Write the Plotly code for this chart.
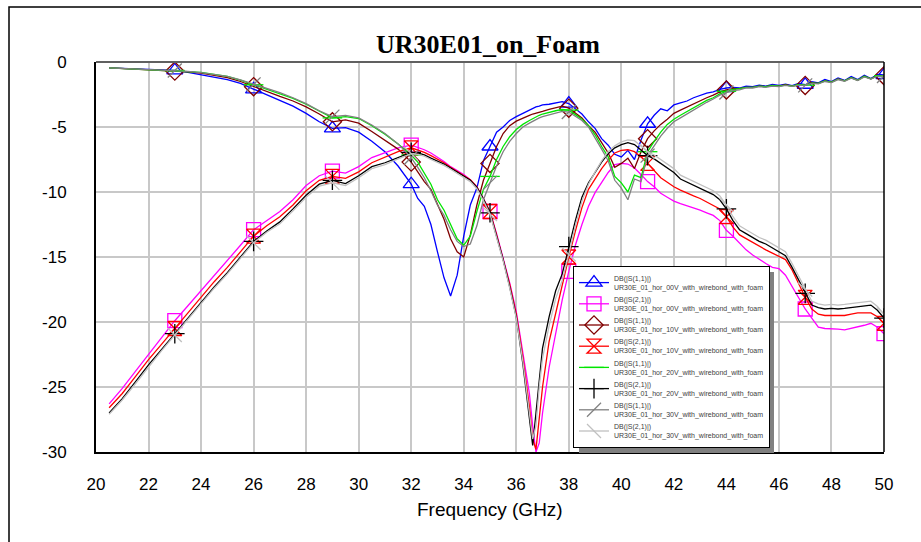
import plotly.graph_objects as go

freq = [20.5, 21, 21.5, 22, 22.5, 23, 23.5, 24, 24.5, 25, 25.5, 26, 26.5, 27, 27.5, 28, 28.5, 29, 29.5, 30, 30.5, 31, 31.5, 32,
        32.25, 32.5, 32.75, 33, 33.25, 33.5, 33.75, 34, 34.25, 34.5, 34.75, 35, 35.25, 35.5, 35.75, 36, 36.25, 36.5,
        36.625, 36.75, 36.875, 37,
        37.25, 37.5, 37.75, 38, 38.25, 38.5, 38.75, 39, 39.25, 39.5, 39.75, 40, 40.25, 40.5, 40.75, 41,
        41.25, 41.5, 41.75, 42, 42.25, 42.5, 42.75, 43, 43.25, 43.5, 43.75, 44, 44.25, 44.5, 44.75, 45,
        45.25, 45.5, 45.75, 46, 46.25, 46.5, 46.75, 47, 47.25, 47.5, 47.75, 48, 48.25, 48.5, 48.75, 49,
        49.25, 49.5, 49.75, 50]

marker_freqs = [23, 26, 29, 32, 35, 38, 41, 44, 47, 50]

s11_00v = [-0.45, -0.5, -0.5, -0.55, -0.6, -0.65, -0.8, -1.0, -1.15, -1.35, -1.65, -2.1, -2.55, -3.0, -3.4, -3.95, -4.6, -5.1, -5.05, -5.4, -6.1, -6.9, -8.0, -9.4,
           -10.5, -11.1, -12.5, -14.6, -16.6, -18.0, -16.4, -13.4, -11.0, -9.7, -7.6, -6.5, -5.4, -5.0, -4.5, -4.2, -3.95, -3.7,
           -3.55, -3.45, -3.4, -3.3,
           -3.25, -3.15, -3.05, -3.2, -3.6, -4.0, -4.6, -5.1, -5.9, -6.4, -7.1, -7.3, -6.8, -7.5, -6.0, -4.75,
           -4.1, -3.6, -3.75, -3.3, -3.15, -3.0, -2.75, -2.55, -2.4, -2.3, -2.1, -2.0, -1.95, -2.0, -1.85, -1.9,
           -1.78, -1.85, -1.72, -1.8, -1.7, -1.82, -1.65, -1.75, -1.52, -1.6, -1.35, -1.5, -1.22, -1.42, -1.12, -1.35,
           -1.02, -1.28, -0.95, -1.0]

s21_00v = [-26.3, -25.1, -23.8, -22.5, -21.2, -19.9, -18.75, -17.6, -16.4, -15.3, -14.1, -12.9, -12.2, -11.5, -10.6, -9.5, -8.75, -8.4, -8.55, -8.05, -7.35, -7.0, -6.6, -6.4,
           -6.55, -6.75, -7.0, -7.3, -7.65, -8.05, -8.35, -8.65, -9.05, -9.6, -10.5, -11.5, -13.2, -15.0, -17.0, -19.2, -22.3, -25.5,
           -28.0, -30.0, -29.3, -27.0,
           -23.5, -20.8, -18.3, -16.1, -14.1, -12.5, -11.1, -10.05, -9.25, -8.5, -7.9, -7.8, -7.85, -8.15, -8.65, -9.2,
           -9.6, -10.1, -10.4, -10.7, -10.9, -11.05, -11.2, -11.4, -11.6, -11.8, -12.2, -12.95, -13.4, -13.9, -14.45, -14.85,
           -15.2, -15.5, -15.8, -15.9, -16.4, -17.3, -18.2, -19.0, -19.7, -20.4, -20.5, -20.5, -20.55, -20.6, -20.5, -20.4,
           -20.25, -20.1, -20.4, -20.9]

s11_10v = [-0.45, -0.5, -0.5, -0.55, -0.6, -0.7, -0.75, -0.85, -1.0, -1.2, -1.5, -1.9, -2.25, -2.65, -3.0, -3.45, -4.0, -4.6, -4.45, -4.7, -5.35, -6.0, -6.7, -7.7,
           -8.5, -9.2, -9.8, -11.0, -12.1, -13.6, -14.6, -15.0, -13.3, -11.0, -9.1, -7.8, -6.5, -5.5, -4.9, -4.55, -4.3, -4.1,
           -4.0, -3.95, -3.85, -3.8,
           -3.65, -3.5, -3.4, -3.55, -3.9, -4.3, -4.9, -5.4, -6.2, -7.0, -8.1, -7.8, -7.4, -8.2, -6.9, -5.9,
           -5.3, -4.8, -4.4, -3.95, -3.7, -3.45, -3.2, -2.95, -2.75, -2.55, -2.3, -2.15, -2.05, -2.05, -1.95, -1.95,
           -1.85, -1.9, -1.8, -1.85, -1.75, -1.85, -1.75, -1.8, -1.6, -1.65, -1.45, -1.55, -1.3, -1.45, -1.2, -1.4,
           -1.1, -1.3, -1.05, -1.05]

s21_10v = [-26.6, -25.5, -24.2, -22.9, -21.7, -20.5, -19.3, -18.1, -16.9, -15.8, -14.6, -13.4, -12.6, -11.9, -11.0, -9.9, -9.1, -8.8, -8.95, -8.45, -7.75, -7.3, -6.9, -6.6,
           -6.75, -6.95, -7.2, -7.45, -7.75, -8.1, -8.4, -8.7, -9.05, -9.6, -10.5, -11.5, -13.3, -15.1, -17.1, -19.4, -22.7, -26.5,
           -29.0, -29.8, -27.5, -25.0,
           -21.5, -19.3, -17.2, -15.0, -13.0, -11.2, -9.8, -8.95, -8.2, -7.55, -7.0, -6.8, -6.75, -6.9, -7.3, -7.8,
           -8.35, -8.9, -9.25, -9.6, -9.85, -10.1, -10.3, -10.5, -10.75, -11.0, -11.3, -11.9, -12.7, -13.3, -13.6, -13.9,
           -14.2, -14.45, -14.7, -14.95, -15.2, -16.0, -17.1, -18.1, -19.0, -19.4, -19.5, -19.5, -19.55, -19.5, -19.4, -19.3,
           -19.3, -19.3, -19.6, -20.1]

s11_20v = [-0.45, -0.5, -0.5, -0.55, -0.6, -0.65, -0.72, -0.8, -0.95, -1.1, -1.4, -1.75, -2.05, -2.4, -2.8, -3.25, -3.8, -4.3, -4.2, -4.35, -4.9, -5.55, -6.3, -7.15,
           -7.7, -8.5, -9.4, -10.6, -11.4, -12.5, -13.6, -14.1, -13.4, -11.5, -9.8, -8.8, -7.5, -6.5, -5.75, -5.2, -4.8, -4.5,
           -4.35, -4.2, -4.1, -4.0,
           -3.85, -3.75, -3.65, -3.7, -4.05, -4.4, -4.9, -5.6, -6.5, -7.3, -8.8, -9.3, -10.0, -8.7, -8.9, -6.9,
           -6.1, -5.4, -4.8, -4.4, -4.1, -3.8, -3.5, -3.2, -2.95, -2.75, -2.45, -2.25, -2.1, -2.05, -1.95, -1.95,
           -1.85, -1.9, -1.8, -1.85, -1.78, -1.85, -1.75, -1.78, -1.62, -1.65, -1.45, -1.55, -1.32, -1.45, -1.2, -1.4,
           -1.1, -1.3, -1.05, -1.05]

s21_20v = [-27.0, -25.9, -24.6, -23.3, -22.1, -20.9, -19.7, -18.5, -17.3, -16.2, -15.0, -13.8, -13.0, -12.3, -11.3, -10.25, -9.4, -9.1, -9.35, -8.75, -8.05, -7.75, -7.35, -6.95,
           -7.0, -7.15, -7.4, -7.6, -7.85, -8.15, -8.45, -8.75, -9.1, -9.65, -10.55, -11.6, -13.4, -15.2, -17.3, -19.6, -23.2, -27.6,
           -29.5, -27.0, -24.3, -22.0,
           -19.6, -17.6, -16.3, -14.2, -12.2, -10.4, -9.3, -8.5, -7.7, -7.05, -6.6, -6.35, -6.2, -6.35, -6.8, -7.2,
           -7.45, -7.8, -8.1, -8.5, -9.0, -9.25, -9.45, -9.7, -9.95, -10.2, -10.6, -11.3, -12.2, -12.9, -13.2, -13.5,
           -13.8, -14.0, -14.3, -14.55, -14.9, -15.8, -16.8, -17.8, -18.7, -18.9, -19.0, -18.95, -19.0, -18.95, -18.9, -18.8,
           -18.75, -18.7, -19.1, -19.7]

s11_30v = [-0.45, -0.5, -0.5, -0.55, -0.6, -0.65, -0.72, -0.82, -0.95, -1.1, -1.38, -1.72, -2.0, -2.35, -2.75, -3.2, -3.75, -4.2, -4.1, -4.3, -4.85, -5.5, -6.3, -7.35,
           -8.1, -8.9, -9.9, -11.0, -11.8, -12.9, -13.8, -14.2, -14.0, -12.6, -10.6, -9.3, -8.0, -6.9, -6.1, -5.5, -5.0, -4.7,
           -4.55, -4.45, -4.3, -4.2,
           -4.05, -3.9, -3.8, -3.85, -4.15, -4.5, -5.0, -5.8, -6.7, -7.6, -9.1, -9.7, -10.6, -9.0, -9.2, -7.2,
           -6.4, -5.7, -5.1, -4.6, -4.3, -4.0, -3.7, -3.35, -3.1, -2.85, -2.55, -2.35, -2.2, -2.15, -2.0, -2.0,
           -1.9, -1.95, -1.85, -1.9, -1.8, -1.88, -1.78, -1.8, -1.65, -1.68, -1.5, -1.58, -1.35, -1.48, -1.25, -1.42,
           -1.15, -1.32, -1.08, -1.08]

s21_30v = [-27.1, -26.0, -24.75, -23.45, -22.2, -21.0, -19.8, -18.6, -17.4, -16.3, -15.1, -13.9, -13.1, -12.45, -11.45, -10.4, -9.55, -9.3, -9.5, -8.9, -8.2, -7.9, -7.45, -7.05,
           -7.1, -7.25, -7.5, -7.7, -7.95, -8.25, -8.55, -8.85, -9.2, -9.75, -10.65, -11.7, -13.5, -15.3, -17.4, -19.7, -23.0, -27.0,
           -29.0, -28.0, -25.0, -22.8,
           -20.3, -18.2, -16.8, -14.8, -12.6, -10.7, -9.4, -8.45, -7.6, -6.9, -6.45, -6.15, -6.0, -6.05, -6.45, -6.9,
           -7.15, -7.5, -7.8, -8.2, -8.7, -8.95, -9.15, -9.4, -9.65, -9.9, -10.3, -11.0, -11.9, -12.6, -12.9, -13.2,
           -13.5, -13.7, -14.0, -14.25, -14.6, -15.5, -16.5, -17.5, -18.4, -18.6, -18.7, -18.65, -18.7, -18.65, -18.6, -18.5,
           -18.45, -18.4, -18.8, -19.4]

series_names = [
    "DB(|S(1,1)|)<br>UR30E_01_hor_00V_with_wirebond_with_foam",
    "DB(|S(2,1)|)<br>UR30E_01_hor_00V_with_wirebond_with_foam",
    "DB(|S(1,1)|)<br>UR30E_01_hor_10V_with_wirebond_with_foam",
    "DB(|S(2,1)|)<br>UR30E_01_hor_10V_with_wirebond_with_foam",
    "DB(|S(1,1)|)<br>UR30E_01_hor_20V_with_wirebond_with_foam",
    "DB(|S(2,1)|)<br>UR30E_01_hor_20V_with_wirebond_with_foam",
    "DB(|S(1,1)|)<br>UR30E_01_hor_30V_with_wirebond_with_foam",
    "DB(|S(2,1)|)<br>UR30E_01_hor_30V_with_wirebond_with_foam",
]
series_values = [s11_00v, s21_00v, s11_10v, s21_10v, s11_20v, s21_20v, s11_30v, s21_30v]
colors = ["#0000ff", "#ff00ff", "#800000", "#ff0000", "#00e600", "#000000", "#808080", "#c0c0c0"]
symbols = ["triangle-up-open", "square-open", "diamond-open", "hourglass-open",
           "line-ew-open", "cross-thin-open", "line-ne-open", "line-nw-open"]
ytick_vals = [0, -5, -10, -15, -20, -25, -30]
ytick_text = ["0", "-5", "-10", "-15", "-20", "-25", "-30"]

MS = 14
fig = go.Figure()
mk_idx = [i for i, f in enumerate(freq) if f in marker_freqs]
for k, (name, vals, col, sym) in enumerate(zip(series_names, series_values, colors, symbols)):
    grp = "g%d" % k
    # data line
    fig.add_trace(go.Scatter(
        x=freq, y=vals, mode="lines", legendgroup=grp, showlegend=False,
        line=dict(color=col, width=1.3), hoverinfo="skip",
    ))
    # markers at every 3 GHz, taken from the same series
    fig.add_trace(go.Scatter(
        x=[freq[i] for i in mk_idx], y=[vals[i] for i in mk_idx], mode="markers",
        legendgroup=grp, showlegend=False,
        marker=dict(symbol=sym, size=MS, color=col, line=dict(color=col, width=1.3)),
    ))
    # legend entry
    fig.add_trace(go.Scatter(
        x=[None], y=[None], mode="lines+markers", name=name, legendgroup=grp,
        line=dict(color=col, width=1.3),
        marker=dict(symbol=sym, size=MS, color=col, line=dict(color=col, width=1.3)),
    ))

W, H = 921, 542
L, R, T, B = 96, 37, 62, 90
pw, ph = W - L - R, H - T - B

def px(xp):
    return (xp - L) / pw

def py(yp):
    return (H - B - yp) / ph

fig.update_layout(
    width=W, height=H,
    margin=dict(l=L, r=R, t=T, b=B),
    paper_bgcolor="white", plot_bgcolor="white",
    font=dict(family="Liberation Sans, Arial", color="black"),
    showlegend=True,
    legend=dict(
        x=px(573), y=py(266), xanchor="left", yanchor="top",
        bgcolor="white", bordercolor="black", borderwidth=1,
        font=dict(size=7, color="#404040", family="Liberation Sans, Arial"),
        itemwidth=30, tracegroupgap=0, traceorder="normal",
    ),
    xaxis=dict(
        range=[20, 50], tick0=20, dtick=2, showgrid=True, gridcolor="#c8c8c8", gridwidth=1.5,
        showline=True, linecolor="black", linewidth=2, zeroline=False, ticks="",
        tickfont=dict(size=17, family="Liberation Sans, Arial"), ticklabelstandoff=16,
    ),
    yaxis=dict(
        range=[-30, 0], tickvals=ytick_vals, ticktext=ytick_text, showgrid=True,
        gridcolor="#c8c8c8", gridwidth=1.5,
        showline=True, linecolor="black", linewidth=2, zeroline=False, ticks="",
        tickfont=dict(size=17, family="Liberation Sans, Arial"), ticklabelstandoff=24,
    ),
    annotations=[
        dict(text="<b>UR30E01_on_Foam</b>", x=px(488), y=py(45), xref="paper", yref="paper",
             showarrow=False, xanchor="center", yanchor="middle",
             font=dict(family="Liberation Serif, Times New Roman", size=26, color="black")),
        dict(text="Frequency (GHz)", x=px(490), y=py(510), xref="paper", yref="paper",
             showarrow=False, xanchor="center", yanchor="middle",
             font=dict(family="Liberation Sans, Arial", size=19, color="black")),
    ],
    shapes=[
        dict(type="line", xref="paper", yref="paper", x0=0, x1=1, y0=1, y1=1,
             line=dict(color="#606060", width=2), layer="above"),
        dict(type="line", xref="paper", yref="paper", x0=1, x1=1, y0=0, y1=1,
             line=dict(color="black", width=1.5), layer="above"),
        dict(type="rect", xref="paper", yref="paper", x0=px(579), x1=px(774), y0=py(453), y1=py(272),
             line=dict(width=0), fillcolor="#808080", layer="above"),
        dict(type="rect", xref="paper", yref="paper", x0=px(9), x1=px(940), y0=py(560), y1=py(7),
             line=dict(color="black", width=1.5), fillcolor="rgba(0,0,0,0)", layer="above"),
    ],
)

fig.write_html("out.html")
